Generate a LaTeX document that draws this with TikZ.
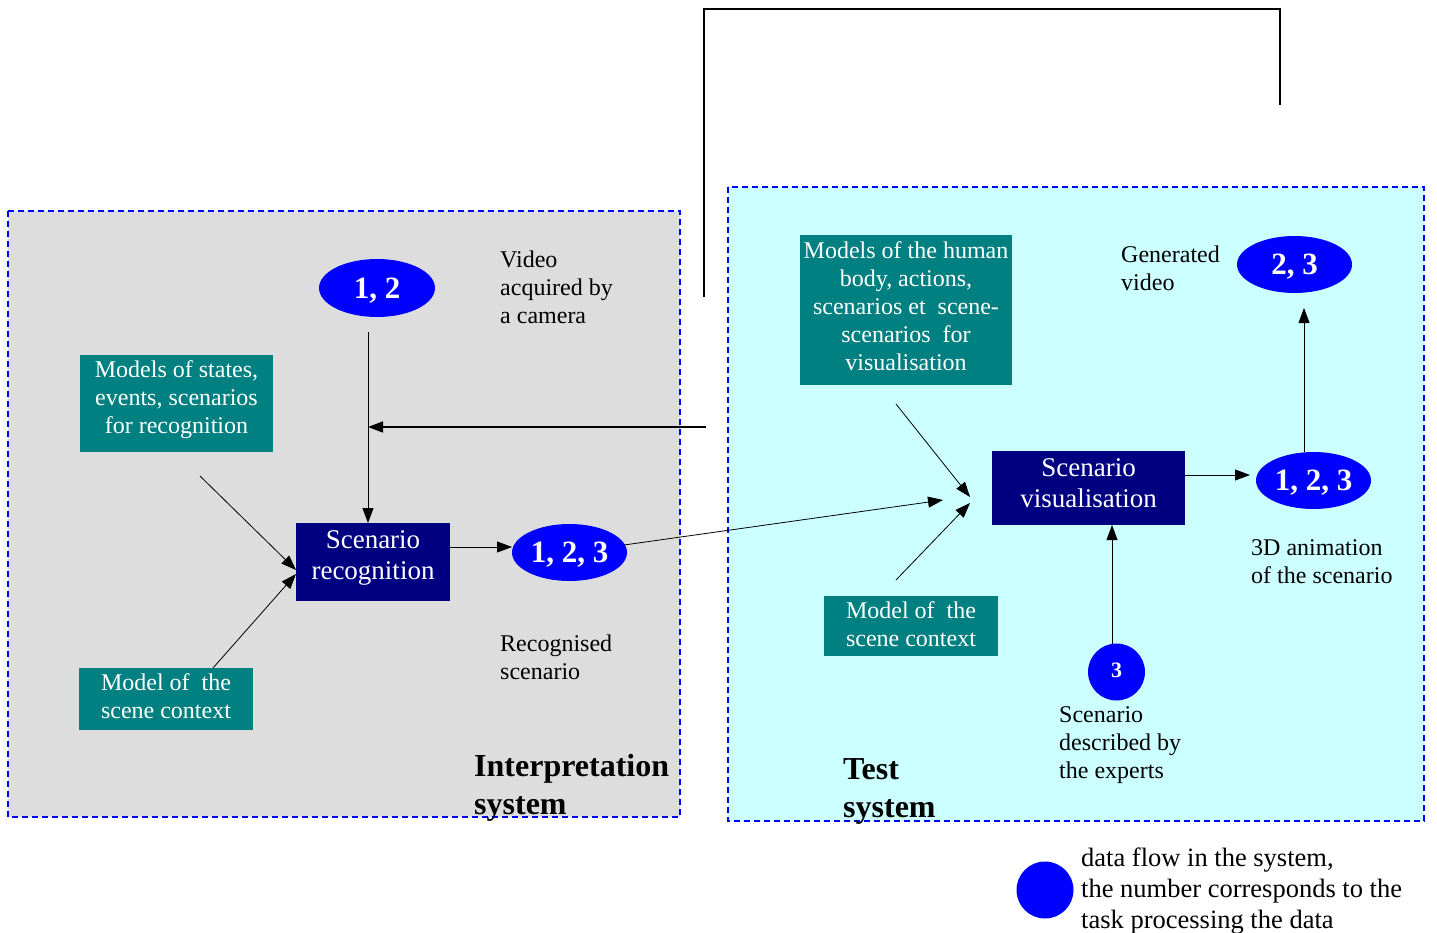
\documentclass[tikz,border=0pt]{standalone}
\usepackage{fontspec}
\setmainfont{Liberation Serif}
\usetikzlibrary{shapes.geometric,arrows.meta,calc}
\definecolor{tealbox}{RGB}{0,128,128}
\definecolor{navybox}{RGB}{0,0,128}
\definecolor{flow}{RGB}{0,0,255}
\definecolor{grayfill}{RGB}{221,221,221}
\definecolor{cyanfill}{RGB}{204,255,255}
\definecolor{dashblue}{RGB}{0,0,255}
\newcommand{\dpfix}[1]{\rule[-#1]{0pt}{#1}}
\tikzset{
 sysbox/.style={draw=dashblue, line width=1.5pt, dash pattern=on 6pt off 4pt},
 modelbox/.style={fill=tealbox, text=white, font=\fontsize{24}{28}\selectfont, align=center, inner sep=0pt},
 taskbox/.style={fill=navybox, text=white, font=\fontsize{27}{31}\selectfont, align=center, inner sep=0pt},
 flowell/.style={ellipse, fill=flow, text=white, font=\fontsize{31}{31}\selectfont\bfseries, inner sep=0pt, text depth=0pt},
 lbl/.style={align=left, font=\fontsize{24}{28}\selectfont, inner sep=0pt, anchor=west},
 systitle/.style={align=left, font=\fontsize{32}{38}\selectfont\bfseries, inner sep=0pt, anchor=west},
 conn/.style={line width=0.8pt, -{Triangle[length=15pt,width=11pt]}},
 fbline/.style={line width=1.5pt},
}
\begin{document}
\begin{tikzpicture}[x=1pt,y=-1pt]
\useasboundingbox (0,0) rectangle (1437,933);
% system frames
\path[fill=grayfill] (8,211) rectangle (680,817);
\path[fill=cyanfill] (728,187) rectangle (1424,821);
\draw[sysbox] (8,211) rectangle (680,817);
\draw[sysbox] (728,187) rectangle (1424,821);

% interpretation system nodes
\node[flowell, minimum width=116pt, minimum height=58pt] (e12) at (377,288) {1, 2};
\node[modelbox, minimum width=193pt, minimum height=97pt] (mstates) at (176.5,403.5) {Models of states,\\events, scenarios\\for recognition\dpfix{13pt}};
\node[modelbox, minimum width=174pt, minimum height=62pt] (msceneL) at (166,699) {Model of~ the\\scene context\dpfix{5pt}};
\node[taskbox, minimum width=154pt, minimum height=78pt] (rec) at (373,562) {Scenario\\recognition\dpfix{14pt}};
\node[flowell, minimum width=115pt, minimum height=57pt] (e123L) at (569.5,552.5) {1, 2, 3};
\node[lbl] (video) at (500,287.5) {Video\\acquired by\\a camera};
\node[lbl] (recsc) at (500,657) {Recognised\\scenario};
\node[systitle] (interp) at (474,788) {Interpretation\\system};

% test system nodes
\node[modelbox, minimum width=212pt, minimum height=150pt] (mhuman) at (906,310) {Models of the human\\body, actions,\\scenarios et~ scene-\\scenarios~ for\\visualisation\dpfix{8pt}};
\node[modelbox, minimum width=174pt, minimum height=60pt] (msceneR) at (911,626) {Model of~ the\\scene context\dpfix{4pt}};
\node[taskbox, minimum width=193pt, minimum height=74pt] (vis) at (1088.5,488) {Scenario\\visualisation\dpfix{9pt}};
\node[flowell, minimum width=115pt, minimum height=57pt] (e123R) at (1313.5,480.5) {1, 2, 3};
\node[flowell, minimum width=115pt, minimum height=57pt] (e23) at (1294.5,264.5) {2, 3};
\node[flowell, minimum width=57pt, minimum height=57pt, font=\fontsize{22}{22}\selectfont\bfseries, text depth=4pt] (e3) at (1116.5,672) {3};
\node[lbl] (genvid) at (1121,268.5) {Generated\\video};
\node[lbl] (anim) at (1251,562) {3D animation\\of the scenario};
\node[lbl] (experts) at (1059,745) {Scenario\\described by\\the experts};
\node[systitle] (testsys) at (843,791) {Test\\system};

% legend
\node[flowell, minimum width=57pt, minimum height=57pt] (legdot) at (1045,890) {};
\node[lbl, font=\fontsize{26.5}{31}\selectfont] (legtxt) at (1081,891) {data flow in the system,\\the number corresponds to the\\task processing the data};

% connector end points
\coordinate (fbStart) at (704,297);
\coordinate (fbTL) at (704,9);
\coordinate (fbTR) at (1280,9);
\coordinate (fbEnd) at (1280,105);
\coordinate (fbArrowStart) at (706,427);
\coordinate (fbArrowEnd) at (368,427);
\coordinate (e12out) at (368,332);
\coordinate (recTop) at (368,523);
\coordinate (mstOut) at (200,476);
\coordinate (recL1) at (296,570);
\coordinate (mscLOut) at (213,668);
\coordinate (recL2) at (296,574);
\coordinate (recOut) at (450,547);
\coordinate (e123Lin) at (512,547);
\coordinate (e123Lout) at (624,545);
\coordinate (visIn1) at (943,500);
\coordinate (mhOut) at (896,404);
\coordinate (visIn2) at (970,497);
\coordinate (mscROut) at (896,580);
\coordinate (visIn3) at (970,503);
\coordinate (visOut) at (1185,475);
\coordinate (e123Rin) at (1250,475);
\coordinate (e123Rout) at (1304,452);
\coordinate (e23in) at (1304,308);
\coordinate (e3out) at (1112,644);
\coordinate (visBot) at (1112,525);

% connectors
\draw[fbline] (fbStart) -- (fbTL) -- (fbTR) -- (fbEnd);
\draw[conn, line width=1.5pt] (fbArrowStart) -- (fbArrowEnd);
\draw[conn] (e12out) -- (recTop);
\draw[conn] (mstOut) -- (recL1);
\draw[conn] (mscLOut) -- (recL2);
\draw[conn] (recOut) -- (e123Lin);
\draw[conn] (e123Lout) -- (visIn1);
\draw[conn] (mhOut) -- (visIn2);
\draw[conn] (mscROut) -- (visIn3);
\draw[conn] (visOut) -- (e123Rin);
\draw[conn] (e123Rout) -- (e23in);
\draw[conn] (e3out) -- (visBot);
\end{tikzpicture}
\end{document}
